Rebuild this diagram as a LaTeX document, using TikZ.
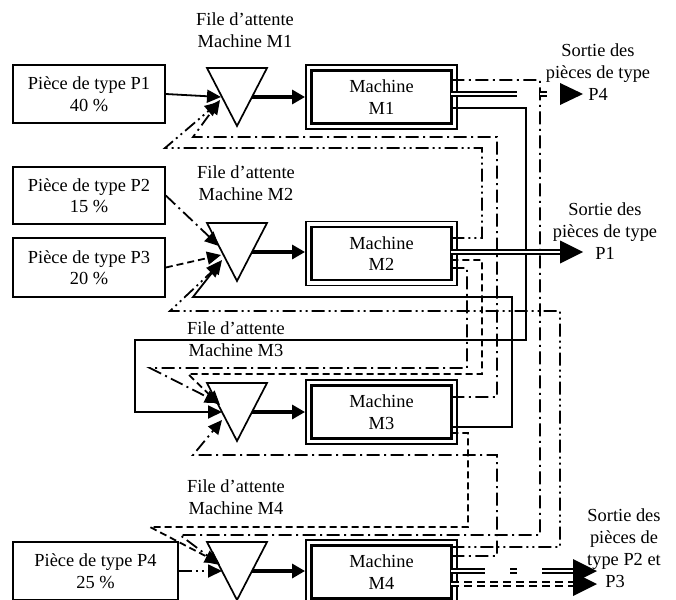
\documentclass[tikz,border=0pt]{standalone}
\usepackage{fontspec}
\setmainfont{Liberation Serif}
\usetikzlibrary{arrows.meta}
\newcommand{\fsz}{\fontsize{18.4}{21.5}\selectfont}
\newcommand{\fsl}{\fontsize{18.4}{22}\selectfont}
\newcommand{\myqueue}[2]{%
  \coordinate (#1tl) at (207,#2);
  \coordinate (#1tr) at (267,#2);
  \coordinate (#1bt) at (237,#2+58);
  \draw[qline] (#1tl) -- (#1tr) -- (#1bt) -- cycle;
  \coordinate (#1out) at (252,#2+29);
}
\newcommand{\mymachine}[3]{%
  \node[mach] (#1) at (381.5,#2) {Machine\\#3};
  \draw[line width=2.5pt] ([shift={(6.5,6.5)}]#1.north west) rectangle ([shift={(-6.5,-6.5)}]#1.south east);
  \coordinate (#1o) at ([xshift=-6.5pt]#1.east);
}
\begin{document}
\begin{tikzpicture}[x=1pt,y=-1pt,
  qline/.style={line width=1.7pt, line join=miter},
  src/.style={draw, line width=1.6pt, minimum width=152pt, minimum height=58pt, inner sep=0pt, align=center, font=\fsz},
  mach/.style={draw, line width=1.9pt, minimum width=151pt, minimum height=64pt, inner sep=0pt, align=center, font=\fsz},
  lbl/.style={align=center, font=\fsl, inner sep=0pt},
  pone/.style={line width=1.8pt},
  ptwo/.style={line width=1.8pt, dash pattern=on 13pt off 4.5pt on 2pt off 4.5pt},
  pthree/.style={line width=1.8pt, dash pattern=on 7pt off 4pt},
  pfour/.style={line width=1.8pt, dash pattern=on 13pt off 4pt on 2pt off 4pt on 2pt off 4pt},
  inarr/.style={-{Triangle[length=14pt,width=13pt]}},
  feed/.style={line width=3.2pt, -{Triangle[length=13pt,width=14pt]}},
  dbl/.style={double, line width=2pt, double distance=2.6pt},
  head/.style={fill=black},
]
\useasboundingbox (0,0) rectangle (676,599);
\clip (0,0) rectangle (676,599);

% sources
\node[src] (p1) at (89,94) {Pièce de type P1\\40 \%};
\node[src, minimum height=57pt] (p2) at (89,195.5) {Pièce de type P2\\15 \%};
\node[src, minimum height=59pt] (p3) at (89,267.5) {Pièce de type P3\\20 \%};
\node[src, minimum width=165pt] (p4) at (95.5,571) {Pièce de type P4\\25 \%};

% queues
\myqueue{t1}{68}
\myqueue{t2}{223}
\myqueue{t3}{383}
\myqueue{t4}{542}

% queue labels
\node[lbl] (q1) at (245,30.5) {File d’attente\\Machine M1};
\node[lbl] (q2) at (246,183.5) {File d’attente\\Machine M2};
\node[lbl] (q3) at (236,339) {File d’attente\\Machine M3};
\node[lbl] (q4) at (236,497.5) {File d’attente\\Machine M4};

% machines
\mymachine{m1}{97}{M1}
\mymachine{m2}{253.5}{M2}
\mymachine{m3}{412}{M3}
\mymachine{m4}{572}{M4}

% exit labels
\node[lbl] (s4) at (598,72) {Sortie des\\pièces de type\\P4};
\node[lbl] (s1) at (605,231) {Sortie des\\pièces de type\\P1};
\node[lbl] (s23) at (624,539) {Sortie des\\pièces de\\type P2 et};
\node[lbl] (s23b) at (615,581) {P3};

% arrow tip points on queues
\coordinate (t1a) at (221,97);
\coordinate (t1b) at (220,100);
\coordinate (t1c) at (219,102);
\coordinate (t2a) at (219,246);
\coordinate (t2b) at (221,255);
\coordinate (t2c) at (222,260);
\coordinate (t2d) at (221,263);
\coordinate (t3a) at (219,403);
\coordinate (t3b) at (220,405);
\coordinate (t3c) at (222,412);
\coordinate (t3d) at (222,420);
\coordinate (t4a) at (219,563);
\coordinate (t4b) at (220,565);
\coordinate (t4c) at (222,571);
% exits
\coordinate (x4) at (583,94);
\coordinate (x1) at (583,252);
\coordinate (x2) at (597,571);
\coordinate (x3) at (597,584);

% feeds queue -> machine
\draw[feed] (t1out) -- (t1out -| m1.west);
\draw[feed] (t2out) -- (t2out -| m2.west);
\draw[feed] (t3out) -- (t3out -| m3.west);
\draw[feed] (t4out) -- (t4out -| m4.west);

% P1 (solid)
\draw[pone,inarr] (p1.east) -- (t1a);
\draw[pone,inarr] (m1o |- 0,108) -- (526,108) -- (526,340) -- (135,340) -- (135,412) -- (t3c);
\draw[pone,inarr] (m3o |- 0,427) -- (512,427) -- (512,297) -- (193,297) -- (t2c);

% P2 (dash dot)
\draw[ptwo,inarr] (p2.east) -- (t2a);
\draw[ptwo,inarr] (m2o |- 0,268) -- (467,268) -- (467,368) -- (150,368) -- (t3a);
\draw[ptwo,inarr] (m3o |- 0,397) -- (497,397) -- (497,137) -- (193,137) -- (t1b);
\draw[ptwo,inarr] (m1o |- 0,80) -- (540,80) -- (540,535) -- (180,535) -- (t4b);
\draw[ptwo,inarr] (m4o |- 0,556) -- (497,556) -- (497,455) -- (193,455) -- (t3d);

% P3 (dashed)
\draw[pthree,inarr] (p3.east) -- (t2b);
\draw[pthree,inarr] (m2o |- 0,260) -- (482,260) -- (482,374) -- (188,374) -- (t3b);
\draw[pthree,inarr] (m3o |- 0,433) -- (468,433) -- (468,527) -- (150,527) -- (t4a);

% P4 (dash dot dot)
\draw[pfour,inarr] (p4.east) -- (t4c);
\draw[pfour,inarr] (m4o |- 0,547) -- (560,547) -- (560,311) -- (170,311) -- (t2d);
\draw[pfour,inarr] (m2o |- 0,238) -- (482,238) -- (482,148) -- (165,148) -- (t1c);

% exits (double lines)
\draw[dbl, dash pattern=on 66pt off 23pt on 7pt off 20pt] (m1o |- x4) -- ([xshift=-23pt]x4);
\fill[head] ([xshift=-23pt,yshift=11pt]x4) -- (x4) -- ([xshift=-23pt,yshift=-11pt]x4) -- cycle;
\draw[dbl] (m2o |- x1) -- ([xshift=-23pt]x1);
\fill[head] ([xshift=-23pt,yshift=11.5pt]x1) -- (x1) -- ([xshift=-23pt,yshift=-11.5pt]x1) -- cycle;
\draw[dbl, dash pattern=on 34pt off 25pt on 7pt off 25pt] (m4o |- x2) -- ([xshift=-24pt]x2);
\fill[head] ([xshift=-24pt,yshift=12pt]x2) -- (x2) -- ([xshift=-24pt,yshift=-12pt]x2) -- cycle;
\draw[dbl, dash pattern=on 8pt off 5pt] (m4o |- x3) -- ([xshift=-24pt]x3);
\fill[head] ([xshift=-24pt,yshift=12pt]x3) -- (x3) -- ([xshift=-24pt,yshift=-12pt]x3) -- cycle;
\end{tikzpicture}
\end{document}
